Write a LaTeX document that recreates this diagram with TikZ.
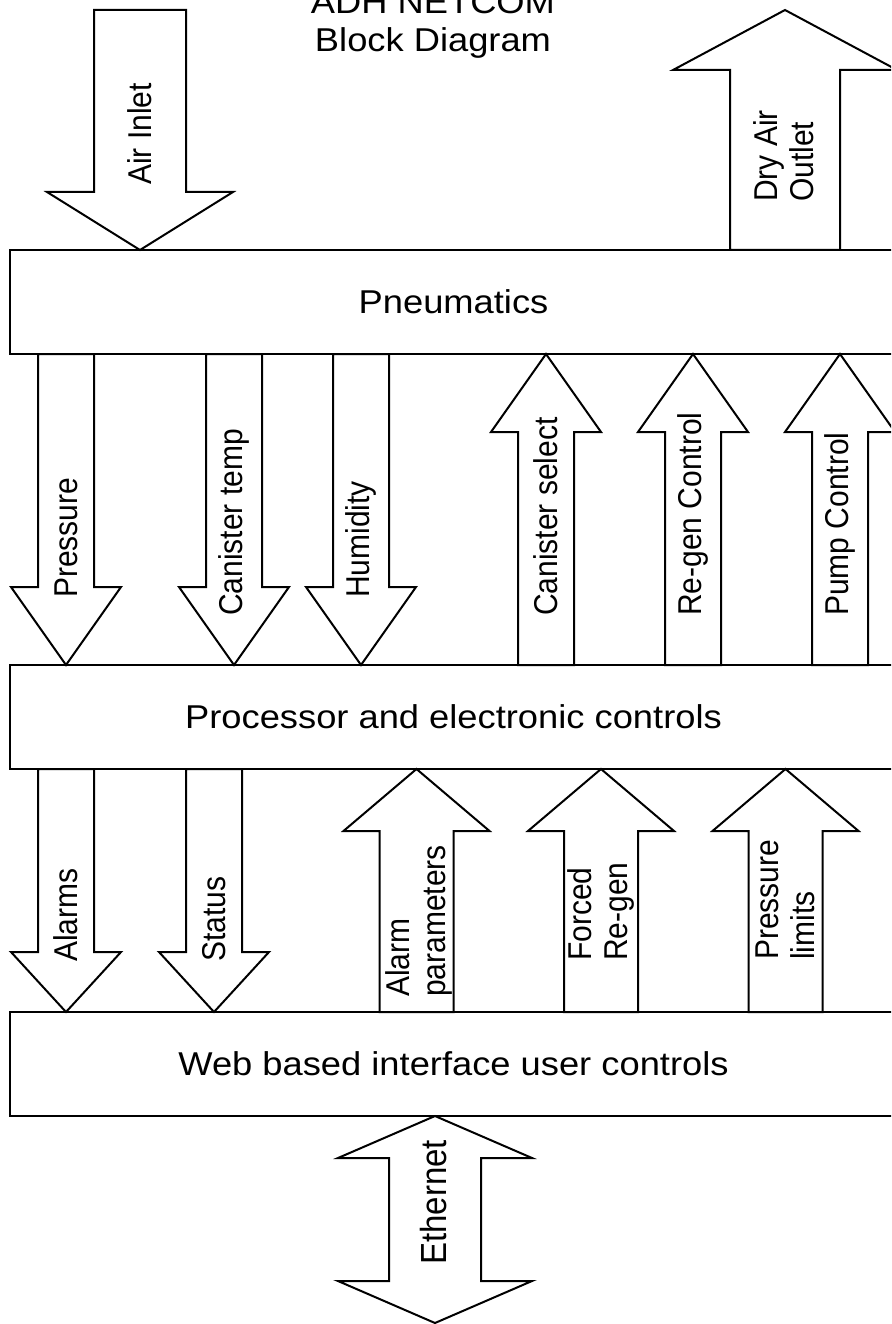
\documentclass[tikz,border=0pt]{standalone}
\usepackage{fontspec}
\setmainfont{Liberation Sans}
\usepackage{graphicx}
\usepackage{tikz}
\usetikzlibrary{calc, positioning}

\newcommand{\stretchtext}[1]{\scalebox{1.1}[1]{#1}}
% Blockpfeil: x, Ende, Spitze, halbe Schaftbreite, halbe Kopfbreite, Kopflaenge
\newcommand{\blockarrow}[6]{%
  \draw[barrow] let \p1=(#2), \p2=(#3), \n1={sign(\y1-\y2)*#6} in
    ({(#1-#4)*1pt},\y1) -- ({(#1-#4)*1pt},{\y2+\n1*1pt})
    -- ({(#1-#5)*1pt},{\y2+\n1*1pt}) -- ({#1*1pt},\y2)
    -- ({(#1+#5)*1pt},{\y2+\n1*1pt}) -- ({(#1+#4)*1pt},{\y2+\n1*1pt})
    -- ({(#1+#4)*1pt},\y1) -- cycle;}

\begin{document}
\begin{tikzpicture}[x=1pt, y=-1pt]

        % Stile
        \tikzstyle{blk}=[draw, line width=2pt, minimum width=887pt, minimum height=104pt, inner sep=0pt, outer sep=0pt, font=\fontsize{33}{40}\selectfont]
        \tikzstyle{barrow}=[draw, line width=2pt, fill=white, line join=miter]
        \tikzstyle{lbl}=[inner sep=0pt, font=\fontsize{30}{33}\selectfont, align=left, xscale=1.1, rotate=90, anchor=west]
        \tikzstyle{ttl}=[inner sep=0pt, font=\fontsize{33}{38}\selectfont, align=center, xscale=1.1]

        \useasboundingbox (0,0) rectangle (891,1324);
        \clip (0,0) rectangle (891,1324);

        % Titel
        \node[ttl] (title) at (433,24.5) {ADH NETCOM\\Block Diagram};

        % Bloecke
        \node[blk] (pneu) at (453.5,302) {\stretchtext{Pneumatics}};
        \node[blk, below=311pt of pneu] (proc) {\stretchtext{Processor and electronic controls}};
        \node[blk, below=243pt of proc] (web) {\stretchtext{Web based interface user controls}};

        % freie Enden
        \coordinate (airin) at (140,10);
        \coordinate (dryout) at (785,10);
        \coordinate (ethend) at (435,1323);

        % Luft ein/aus
        \blockarrow{140}{airin}{pneu.north}{46}{93}{58}
        \blockarrow{785}{pneu.north}{dryout}{55}{112}{60}

        % Pneumatik <-> Prozessor
        \blockarrow{66}{pneu.south}{proc.north}{28}{55}{78}
        \blockarrow{234}{pneu.south}{proc.north}{28}{55}{78}
        \blockarrow{361}{pneu.south}{proc.north}{28}{55}{78}
        \blockarrow{546}{proc.north}{pneu.south}{28}{55}{78}
        \blockarrow{693}{proc.north}{pneu.south}{28}{55}{78}
        \blockarrow{840}{proc.north}{pneu.south}{28}{55}{78}

        % Prozessor <-> Web
        \blockarrow{66}{proc.south}{web.north}{28}{55}{60}
        \blockarrow{214}{proc.south}{web.north}{28}{55}{60}
        \blockarrow{416.5}{web.north}{proc.south}{37}{73}{62}
        \blockarrow{601}{web.north}{proc.south}{37}{73}{62}
        \blockarrow{785.5}{web.north}{proc.south}{37}{73}{62}

        % Ethernet (beidseitig)
        \draw[barrow] let \p1=(web.south), \p2=(ethend) in
          (435pt,\y1) -- (532pt,{\y1-42pt}) -- (481pt,{\y1-42pt}) -- (481pt,{\y2+42pt})
          -- (532pt,{\y2+42pt}) -- (435pt,\y2) -- (338pt,{\y2+42pt}) -- (389pt,{\y2+42pt})
          -- (389pt,{\y1-42pt}) -- (338pt,{\y1-42pt}) -- cycle;

        % Beschriftungen
        \node[lbl] (lairin) at (140,185) {Air Inlet};
        \node[lbl] (ldry) at (784,202) {Dry Air\\Outlet};
        \node[lbl] (lpress) at (66,598) {Pressure};
        \node[lbl] (ltemp) at (234,616) {Canister temp};
        \node[lbl] (lhum) at (361,598) {Humidity};
        \node[lbl] (lsel) at (546,616) {Canister select};
        \node[lbl] (lregen) at (693,616) {Re-gen Control};
        \node[lbl] (lpump) at (840,616) {Pump Control};
        \node[lbl] (lalarm) at (66,962) {Alarms};
        \node[lbl] (lstat) at (214,962) {Status};
        \node[lbl] (lapar) at (419,997) {Alarm\\parameters};
        \node[lbl] (lforce) at (601,961) {Forced\\Re-gen};
        \node[lbl] (lplim) at (785,960) {Pressure\\limits};
        \node[lbl, font=\fontsize{33}{38}\selectfont] (leth) at (434,1265) {Ethernet};

\end{tikzpicture}
\end{document}
